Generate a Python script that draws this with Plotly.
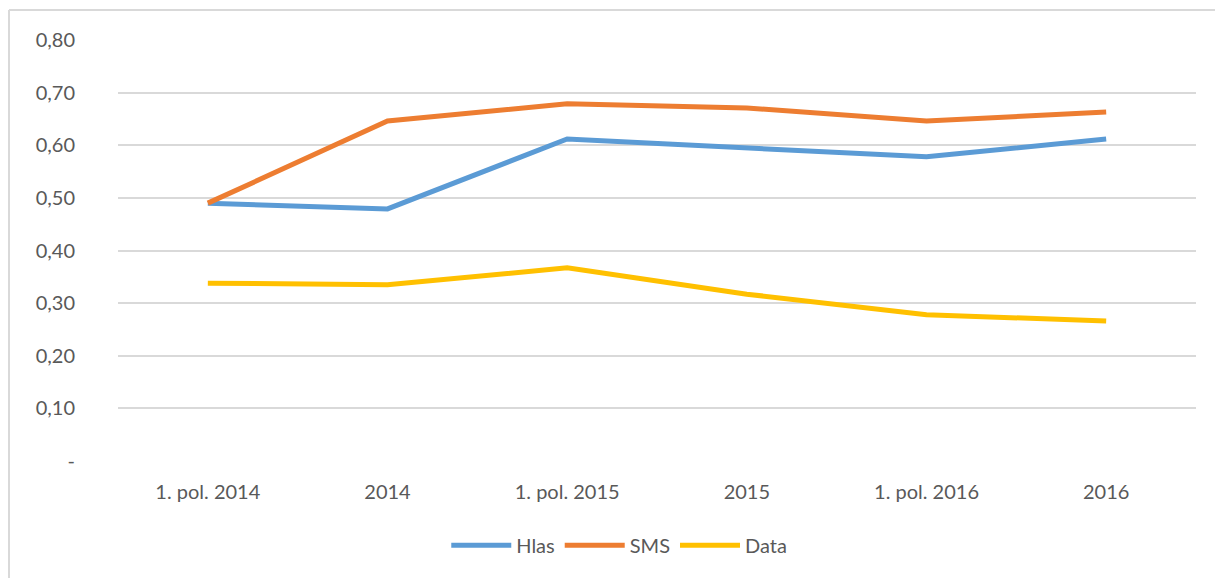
import plotly.graph_objects as go

# Období a hodnoty jednotlivých služeb
obdobi = ["1. pol. 2014", "2014", "1. pol. 2015", "2015", "1. pol. 2016", "2016"]
hlas = [0.490, 0.479, 0.612, 0.595, 0.578, 0.612]
sms = [0.490, 0.646, 0.679, 0.671, 0.646, 0.663]
data = [0.338, 0.335, 0.367, 0.317, 0.278, 0.266]

y_ticks = [0, 0.1, 0.2, 0.3, 0.4, 0.5, 0.6, 0.7, 0.8]
y_tick_text = ["-", "0,10", "0,20", "0,30", "0,40", "0,50", "0,60", "0,70", "0,80"]

font_family = "Lato, 'Open Sans', sans-serif"
text_color = "#595959"

fig = go.Figure()
for name, values, color in [
    ("Hlas", hlas, "#5B9BD5"),
    ("SMS", sms, "#ED7D31"),
    ("Data", data, "#FFC000"),
]:
    fig.add_trace(go.Scatter(
        x=obdobi, y=values, name=name, mode="lines",
        line=dict(color=color, width=5, shape="linear"),
        hoverinfo="x+y+name",
    ))

fig.update_layout(
    width=1215, height=578,
    margin=dict(l=118, r=19, t=40, b=117),
    paper_bgcolor="white", plot_bgcolor="white",
    font=dict(family=font_family, size=20, color=text_color),
    showlegend=True,
    legend=dict(
        orientation="h", x=0.465, y=-0.2, xanchor="center", yanchor="middle",
        font=dict(size=20, color=text_color), itemwidth=60,
        traceorder="normal",
    ),
    xaxis=dict(
        type="category", range=[-0.5, 5.5], showgrid=False, zeroline=False,
        showline=False, ticks="", ticklabelstandoff=17,
    ),
    yaxis=dict(
        range=[0, 0.8], tickvals=y_ticks, ticktext=y_tick_text,
        showgrid=True, gridcolor="#D9D9D9", gridwidth=1.5,
        zeroline=False, showline=False, ticks="", ticklabelstandoff=42,
    ),
    shapes=[
        # rámeček grafu (horní a levá hrana)
        dict(type="line", xref="paper", yref="paper", x0=-0.1011, x1=1.02,
             y0=1.0713, y1=1.0713, line=dict(color="#D9D9D9", width=2)),
        dict(type="line", xref="paper", yref="paper", x0=-0.1011, x1=-0.1011,
             y0=1.0713, y1=-0.3, line=dict(color="#D9D9D9", width=2)),
    ],
)

fig.write_html("out.html")
